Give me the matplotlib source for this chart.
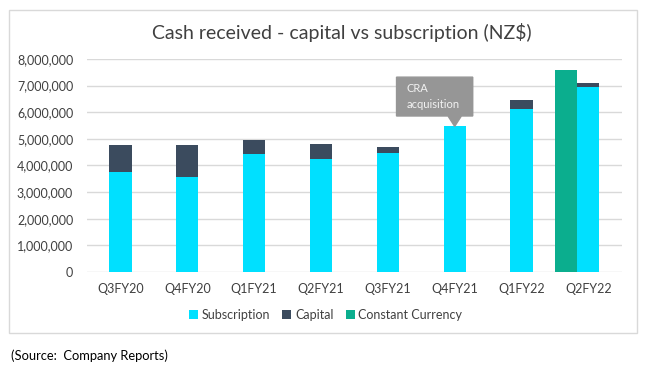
import matplotlib.pyplot as plt
import numpy as np
from matplotlib.patches import Rectangle, Polygon
from matplotlib.ticker import FuncFormatter

quarters = ['Q3FY20', 'Q4FY20', 'Q1FY21', 'Q2FY21', 'Q3FY21', 'Q4FY21', 'Q1FY22', 'Q2FY22']
subscription = [3770000, 3580000, 4440000, 4240000, 4470000, 5470000, 6130000, 6940000]
capital = [1000000, 1190000, 530000, 550000, 220000, 0, 320000, 160000]
cc_quarter = 'Q2FY22'
cc_value = 7600000

c_sub = '#00E0FF'
c_cap = '#3B4B5E'
c_cc = '#0BAE8E'

plt.rcParams['font.family'] = ['Lato', 'DejaVu Sans']

fig = plt.figure(figsize=(6.45, 3.69), dpi=100)
ax = fig.add_axes([0.135, 0.263, 0.829, 0.577])

x = np.arange(len(quarters))
w = 0.33
ax.bar(x, subscription, w, color=c_sub, label='Subscription', zorder=3)
ax.bar(x, capital, w, bottom=subscription, color=c_cap, label='Capital', zorder=3)
cc_x = quarters.index(cc_quarter) - w
ax.bar([cc_x], [cc_value], w, color=c_cc, label='Constant Currency', zorder=3)

ax.set_xlim(-0.5, len(quarters) - 0.5)
ax.set_ylim(0, 8000000)
ax.set_yticks(np.arange(0, 8000001, 1000000))
ax.yaxis.set_major_formatter(FuncFormatter(lambda v, p: f'{int(v):,}'))
ax.set_xticks(x)
ax.set_xticklabels(quarters)
ax.tick_params(length=0, labelsize=9, colors='#404040', pad=8)
ax.tick_params(axis='y', pad=10)
ax.grid(axis='y', color='#d9d9d9', lw=1, zorder=0)
for s in ax.spines.values():
    s.set_visible(False)

# callout for CRA acquisition
i = quarters.index('Q4FY21')
top = subscription[i] + capital[i]
call = Polygon([(i - 0.87, 7320000), (i + 0.27, 7320000), (i + 0.27, 5860000),
                (i + 0.1, 5860000), (i, top), (i - 0.1, 5860000),
                (i - 0.87, 5860000)], closed=True, color='#969696', zorder=4, clip_on=False)
ax.add_patch(call)
ax.text(i - 0.72, 6600000, 'CRA\nacquisition', color='#f2f2f2', fontsize=8,
        va='center', ha='left', linespacing=1.5, zorder=5)

fig.text(0.53, 0.913, 'Cash received - capital vs subscription (NZ$)', ha='center',
         va='center', fontsize=14, color='#404040')

fig.legend(loc='center', bbox_to_anchor=(0.505, 0.146), ncol=3, frameon=False,
           fontsize=9, handlelength=0.7, handleheight=0.7, handletextpad=0.3,
           columnspacing=1.0, labelcolor='#404040')

fig.patches.append(Rectangle((9 / 645, 1 - 333 / 369), 628 / 645, 323 / 369,
                             transform=fig.transFigure, fill=False,
                             edgecolor='#d9d9d9', lw=1))
fig.text(11 / 645, 1 - 356 / 369, '(Source:  Company Reports)', fontsize=9.3,
         va='center', ha='left', color='black')

fig.savefig('out.png', dpi=100)
